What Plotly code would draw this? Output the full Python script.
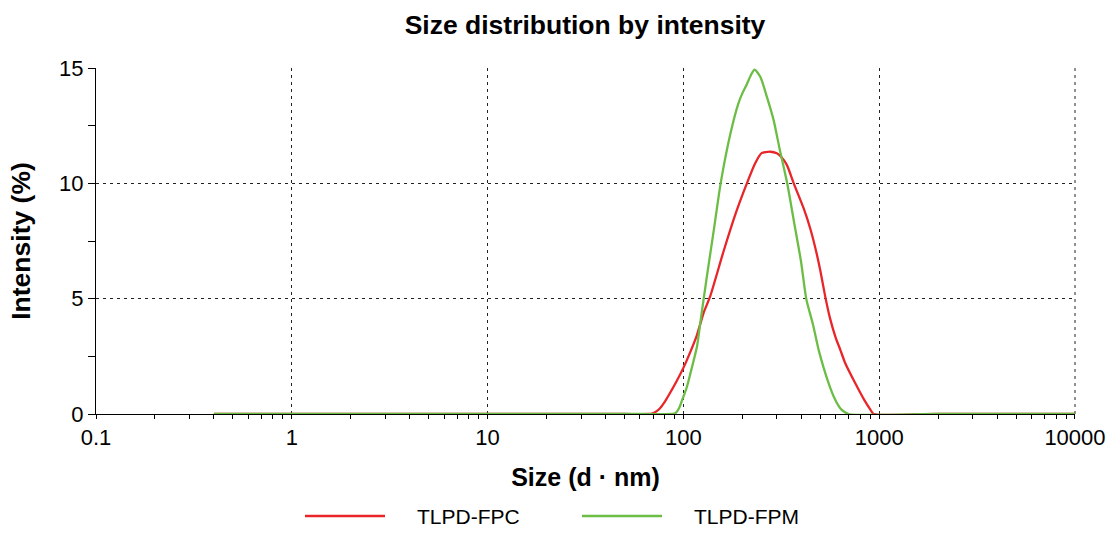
import plotly.graph_objects as go

# ---- data ----
fpc_size = [0.4, 10, 50, 66, 69, 72, 76, 80, 84, 92, 100, 108, 117, 127, 137, 161, 185, 211, 232, 250, 278, 300, 318, 338, 366, 412, 446, 475, 501, 530, 559, 600, 634, 671, 755, 840, 900, 938, 2000, 10000]
fpc_int = [0, 0, 0, 0, 0.02, 0.09, 0.25, 0.5, 0.8, 1.4, 2.0, 2.65, 3.4, 4.4, 5.1, 7.1, 8.7, 10.0, 10.85, 11.3, 11.37, 11.3, 11.12, 10.79, 10.0, 8.9, 8.0, 7.1, 6.2, 5.1, 4.2, 3.3, 2.77, 2.2, 1.33, 0.6, 0.2, 0, 0, 0]

fpm_size = [0.4, 10, 60, 88, 91, 95, 98.5, 104, 108.6, 117.5, 122, 127, 132, 143, 155, 174, 191, 200, 211, 222, 231, 247, 267, 289, 310, 339, 366, 399, 424, 460, 491, 552, 597, 640, 697, 2000, 10000]
fpm_int = [0, 0, 0, 0, 0.03, 0.25, 0.6, 1.15, 1.76, 2.95, 3.95, 5.0, 6.0, 7.97, 10.0, 12.17, 13.47, 13.9, 14.3, 14.72, 14.93, 14.62, 13.75, 12.74, 11.5, 10.0, 8.4, 6.6, 5.0, 3.85, 2.77, 1.33, 0.61, 0.2, 0, 0, 0]

series_names = ["TLPD-FPC", "TLPD-FPM"]
series_colors = ["#e8262a", "#6cbd45"]

x_tickvals = [0.1, 1, 10, 100, 1000, 10000]
x_ticktext = ["0.1", "1", "10", "100", "1000", "10000"]
x_minor = [m * 10 ** e for e in range(-1, 4) for m in range(2, 10)]
y_tickvals = [0, 5, 10, 15]
y_minor = [2.5, 7.5, 12.5]

FONT = "Liberation Sans, Arial, sans-serif"

fig = go.Figure()
for xs, ys, name, color in [(fpc_size, fpc_int, series_names[0], series_colors[0]),
                            (fpm_size, fpm_int, series_names[1], series_colors[1])]:
    fig.add_trace(go.Scatter(x=xs, y=ys, mode="lines", name=name, cliponaxis=False,
                             line=dict(color=color, width=2.3, shape="spline", smoothing=0.6),
                             showlegend=False, hoverinfo="skip"))

GRID_COLOR = "#222"
GRID_DASH = "3px,4px"
grid = dict(showgrid=True, gridcolor=GRID_COLOR, gridwidth=1, griddash=GRID_DASH)

W, H = 1106, 550
ML, MR, MT, MB = 96, 31, 68, 136
fig.update_layout(
    width=W, height=H,
    margin=dict(l=ML, r=MR, t=MT, b=MB),
    paper_bgcolor="white", plot_bgcolor="white",
    font=dict(family=FONT, color="black", size=21),
    title=dict(text="<b>Size distribution by intensity</b>", x=585 / W, xanchor="center",
               y=1 - 25 / H, yanchor="middle", font=dict(size=26.5, family=FONT)),
    xaxis=dict(type="log", range=[-1, 4.0001], tickmode="array", tickvals=x_tickvals, ticktext=x_ticktext,
               ticks="outside", ticklen=4, tickcolor="black", showline=True, linecolor="black",
               linewidth=1, zeroline=False, automargin=False, ticklabeloverflow="allow",
               layer="below traces",
               minor=dict(tickmode="array", tickvals=x_minor, ticks="outside", ticklen=4,
                          tickcolor="black", showgrid=False),
               title=dict(text="<b>Size (d · nm)</b>", font=dict(size=25), standoff=19),
               tickfont=dict(size=22), **grid),
    xaxis2=dict(type="log", range=[-1, 4.0001], overlaying="x", anchor="y", side="bottom",
                tickmode="array", tickvals=x_minor, ticks="inside", ticklen=4, tickcolor="black",
                showticklabels=False, showgrid=False, showline=False, zeroline=False, automargin=False),
    yaxis=dict(range=[0, 15], tickmode="array", tickvals=y_tickvals, ticks="outside", ticklen=7,
               tickcolor="black", showline=True, linecolor="black", linewidth=1, zeroline=False,
               automargin=False, ticklabeloverflow="allow", layer="below traces",
               minor=dict(tickmode="array", tickvals=y_minor, ticks="outside", ticklen=7,
                          tickcolor="black", showgrid=False),
               title=dict(text="<b>Intensity (%)</b>", font=dict(size=26.5), standoff=20),
               tickfont=dict(size=22), **grid),
    yaxis2=dict(range=[0, 15], overlaying="y", anchor="x", side="left",
                tickmode="array", tickvals=y_minor, ticks="inside", ticklen=7, tickcolor="black",
                showticklabels=False, showgrid=False, showline=False, zeroline=False, automargin=False),
)

# dotted grid line along the right edge (plotly drops the gridline at the range end)
fig.add_shape(type="line", xref="paper", yref="paper", x0=1, x1=1, y0=0, y1=1,
              line=dict(color=GRID_COLOR, width=1, dash=GRID_DASH), layer="below")

# manual legend below the plot (positions in paper units of the plot area)
PW = W - ML - MR
PH = H - MT - MB
legend_items = [(305 - ML, series_names[0], series_colors[0]), (582 - ML, series_names[1], series_colors[1])]
LEG_Y = -(516 - (H - MB)) / PH
for px, name, color in legend_items:
    fig.add_shape(type="line", xref="paper", yref="paper", x0=px / PW, x1=(px + 80) / PW,
                  y0=LEG_Y, y1=LEG_Y, line=dict(color=color, width=2.5))
    fig.add_annotation(xref="paper", yref="paper", x=(px + 110) / PW, y=LEG_Y, text=name,
                       showarrow=False, xanchor="left", yanchor="middle", font=dict(size=21))

# remove the default 8px page margin so the figure fills the window exactly
fig.write_html("out.html", config={"displayModeBar": False},
               post_script="document.body.style.margin='0';document.body.style.overflow='hidden';")
